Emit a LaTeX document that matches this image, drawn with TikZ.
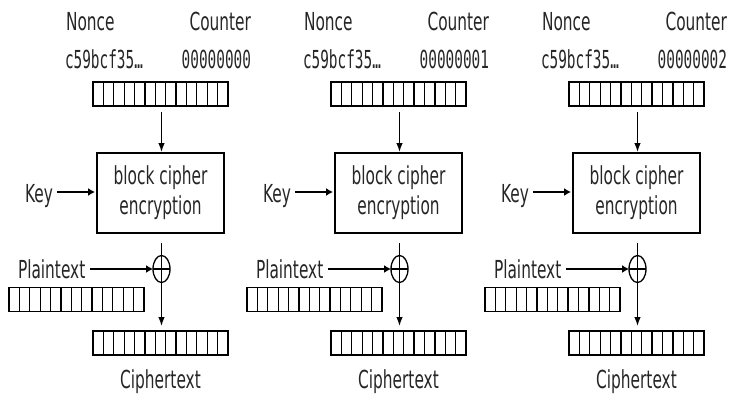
\documentclass[tikz,border=0pt]{standalone}
\usepackage{fontspec}
\setmainfont{DejaVu Sans}[FakeStretch=0.62]
\setmonofont{DejaVu Sans Mono}[FakeStretch=0.58]
\usetikzlibrary{arrows.meta,shapes.geometric,calc}
\begin{document}
\begin{tikzpicture}[x=1pt,y=-1pt,
  every node/.style={inner sep=0pt,outer sep=0pt,text=black!85},
  lbl/.style={font=\fontsize{24.8}{28}\selectfont},
  mono/.style={font=\ttfamily\fontsize{24.8}{28}\selectfont},
  register/.style={draw,line width=1.3pt,minimum width=135pt,minimum height=24pt,
    path picture={\foreach \i in {1,...,12}{\draw[line width=1.3pt]
      ($(path picture bounding box.south west)!\i/13!(path picture bounding box.south east)$) --
      ($(path picture bounding box.north west)!\i/13!(path picture bounding box.north east)$);}}},
  cipherbox/.style={draw,line width=1.3pt,minimum width=127pt,minimum height=80pt,align=center,
    font=\fontsize{24.8}{30}\selectfont},
  xorop/.style={draw,ellipse,line width=1.3pt,minimum width=17pt,minimum height=27pt},
  conn/.style={line width=1.3pt},
  varrow/.style={conn,-{Latex[length=9pt,width=6.5pt]}},
  harrow/.style={conn,-{Latex[length=7pt,width=8pt]}}
]
\useasboundingbox (0,0) rectangle (731,394);
\foreach \k/\cnt in {0/00000000,1/00000001,2/00000002}{
\begin{scope}[xshift=238*\k]
  \node[lbl,anchor=base west] (nonce\k) at (66,30.5) {Nonce};
  \node[lbl,anchor=base east] (counter\k) at (251,30.5) {Counter};
  \node[mono,anchor=base west] (nval\k) at (65,68) {c59bcf35…};
  \node[mono,anchor=base east] (cval\k) at (251,68) {\cnt};
  \node[register] (reg\k) at (160.5,94) {};
  \node[cipherbox] (box\k) at (160.5,193) {block cipher\\encryption};
  \node[lbl,anchor=base west] (key\k) at (25,202) {Key};
  \coordinate (keyend\k) at (57,192);
  \node[xorop] (xor\k) at (161.5,269) {};
  \coordinate (xtop\k) at (161.5,243);
  \node[lbl,anchor=base west] (pt\k) at (18,278) {Plaintext};
  \coordinate (ptend\k) at (90,269);
  \node[register] (preg\k) at (76.5,299.5) {};
  \node[register] (creg\k) at (160.5,343) {};
  \node[lbl,anchor=base] (ct\k) at (160.5,388) {Ciphertext};
\end{scope}
  \draw[varrow,shorten <=6pt,shorten >=1pt] (reg\k.south -| xor\k) -- (box\k.north -| xor\k);
  \draw[harrow,shorten >=2pt] (keyend\k) -- (box\k.west |- keyend\k);
  \draw[conn] (xtop\k) -- (xor\k.north);
  \draw[conn] (xor\k.west) -- (xor\k.east);
  \draw[varrow,shorten >=5pt] (xor\k.north) -- (creg\k.north -| xor\k);
  \draw[harrow] (ptend\k) -- (xor\k.west);
}
\end{tikzpicture}
\end{document}
